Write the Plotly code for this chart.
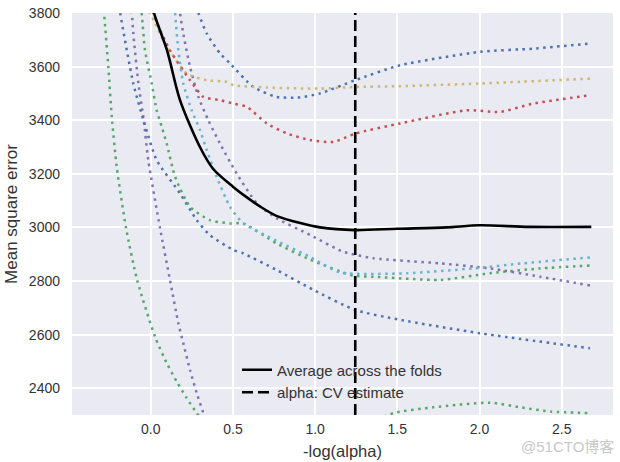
import plotly.graph_objects as go

# ---- data (x = -log(alpha), y = mean square error) ----
fold_a_x = [-0.33, -0.284, -0.258, -0.237, -0.207, -0.150, -0.083, 0.026, 0.097, 0.158, 0.219, 0.28, 0.35, 0.5, 0.7, 0.9, 1.1, 1.3, 1.476, 1.72, 2.064, 2.246, 2.43, 2.672]
fold_a_y = [4150, 3800, 3599, 3412, 3226, 2997, 2804, 2592, 2494, 2425, 2363, 2307, 2250, 2190, 2150, 2145, 2190, 2260, 2307, 2329, 2346, 2329, 2313, 2307]

fold_b_x = [-0.18, -0.116, -0.106, -0.075, -0.045, -0.015, 0.057, 0.117, 0.168, 0.198, 0.239, 0.28, 0.32, 0.36]
fold_b_y = [3960, 3800, 3723, 3537, 3412, 3251, 2996, 2804, 2642, 2568, 2468, 2381, 2307, 2230]

fold_c_x = [-0.23, -0.186, -0.106, -0.035, 0.036, 0.178, 0.28, 0.36, 0.502, 0.563, 0.766, 0.989, 1.243, 1.517, 2.003, 2.672]
fold_c_y = [3980, 3800, 3537, 3381, 3251, 3127, 3027, 2971, 2916, 2903, 2841, 2767, 2692, 2655, 2605, 2549]

fold_d_x = [-0.08, -0.055, -0.035, 0.006, 0.036, 0.067, 0.097, 0.148, 0.239, 0.36, 0.482, 0.563, 0.766, 0.969, 1.232, 1.354, 1.76, 2.064, 2.369, 2.672]
fold_d_y = [3930, 3800, 3661, 3537, 3437, 3375, 3313, 3189, 3077, 3027, 3015, 3015, 2940, 2880, 2820, 2816, 2804, 2829, 2847, 2858]

fold_e_x = [0.16, 0.178, 0.198, 0.239, 0.29, 0.35, 0.421, 0.523, 0.645, 0.766, 0.969, 1.172, 1.354, 1.76, 2.064, 2.369, 2.672]
fold_e_y = [3900, 3800, 3723, 3599, 3487, 3400, 3313, 3201, 3090, 3034, 2972, 2909, 2885, 2866, 2847, 2816, 2783]

fold_f_x = [0.24, 0.29, 0.341, 0.422, 0.482, 0.624, 0.766, 0.908, 1.03, 1.243, 1.517, 2.003, 2.327, 2.672]
fold_f_y = [3900, 3800, 3723, 3649, 3612, 3524, 3487, 3485, 3500, 3549, 3605, 3655, 3667, 3686]

fold_g_x = [-0.05, -0.02, 0.02, 0.077, 0.219, 0.341, 0.462, 0.502, 0.706, 1.03, 1.243, 1.517, 2.003, 2.672]
fold_g_y = [3880, 3820, 3770, 3698, 3574, 3549, 3543, 3531, 3522, 3518, 3524, 3527, 3537, 3555]

fold_h_x = [-0.03, 0.04, 0.117, 0.239, 0.32, 0.421, 0.502, 0.584, 0.706, 0.827, 0.969, 1.111, 1.243, 1.517, 1.922, 2.125, 2.327, 2.672]
fold_h_y = [3880, 3760, 3661, 3549, 3487, 3475, 3462, 3450, 3388, 3351, 3326, 3319, 3350, 3388, 3437, 3431, 3462, 3493]

fold_i_x = [0.13, 0.148, 0.168, 0.198, 0.249, 0.30, 0.341, 0.401, 0.482, 0.563, 0.766, 0.969, 1.152, 1.557, 1.96, 2.265, 2.672]
fold_i_y = [3930, 3800, 3661, 3537, 3437, 3363, 3288, 3189, 3077, 3015, 2950, 2890, 2832, 2829, 2847, 2866, 2888]

mean_x = [-0.03, 0.02, 0.099, 0.178, 0.30, 0.38, 0.50, 0.585, 0.665, 0.768, 0.91, 1.03, 1.24, 1.5, 1.8, 2.0, 2.3, 2.68]
mean_y = [3950, 3800, 3661, 3475, 3299, 3218, 3152, 3112, 3078, 3042, 3016, 3000, 2990, 2995, 3000, 3008, 3002, 3002]

alpha_cv = 1.244  # -log(alpha) chosen by CV

folds = [
    (fold_a_x, fold_a_y, "#55A868"),
    (fold_b_x, fold_b_y, "#8172B2"),
    (fold_c_x, fold_c_y, "#4C72B0"),
    (fold_d_x, fold_d_y, "#55A868"),
    (fold_e_x, fold_e_y, "#8172B2"),
    (fold_f_x, fold_f_y, "#4C72B0"),
    (fold_g_x, fold_g_y, "#CCB974"),
    (fold_h_x, fold_h_y, "#C44E52"),
    (fold_i_x, fold_i_y, "#64B5CD"),
]

x_ticks = [0.0, 0.5, 1.0, 1.5, 2.0, 2.5]
y_ticks = [2400, 2600, 2800, 3000, 3200, 3400, 3600, 3800]
y_min, y_max = 2300, 3800
x_min, x_max = -0.479, 2.812

fig = go.Figure()
for fx, fy, col in folds:
    fig.add_trace(go.Scatter(x=fx, y=fy, mode="lines", showlegend=False,
                             line=dict(color=col, width=2.5, dash="2.5px,4.5px",
                                       shape="spline", smoothing=0.6),
                             hoverinfo="skip"))

fig.add_trace(go.Scatter(x=mean_x, y=mean_y, mode="lines",
                         name="Average across the folds",
                         line=dict(color="black", width=2.6, shape="spline", smoothing=0.8)))
fig.add_trace(go.Scatter(x=[alpha_cv, alpha_cv], y=[y_min, y_max], mode="lines",
                         name="alpha: CV estimate",
                         line=dict(color="black", width=2.6, dash="11px,5px")))

font_family = "Liberation Sans, Arial, sans-serif"
fig.update_layout(
    width=620, height=462,
    margin=dict(l=72, r=7, t=13, b=47, autoexpand=False),
    paper_bgcolor="white",
    plot_bgcolor="#EAEAF2",
    font=dict(family=font_family, color="#333333", size=14),
    legend=dict(x=0.305, y=0.153, xanchor="left", yanchor="top",
                bgcolor="rgba(0,0,0,0)", font=dict(size=15, color="#333333"),
                tracegroupgap=2),
    annotations=[dict(text="@51CTO博客", x=1.0, y=0.0, xref="paper", yref="paper",
                      xanchor="right", yanchor="middle", yshift=-31, xshift=3, showarrow=False,
                      font=dict(size=15, color="#c8c8c8",
                                family="Liberation Sans, Noto Sans CJK SC, sans-serif"))],
)
fig.update_xaxes(range=[x_min, x_max], tickvals=x_ticks, tickformat=".1f",
                 showgrid=True, gridcolor="white", gridwidth=1.5, automargin=False,
                 zeroline=False, showline=False, ticklabelstandoff=4,
                 title=dict(text="-log(alpha)", font=dict(size=16.5), standoff=9))
fig.update_yaxes(range=[y_min, y_max], tickvals=y_ticks,
                 showgrid=True, gridcolor="white", gridwidth=1.5, automargin=False,
                 zeroline=False, showline=False, ticklabelstandoff=11,
                 title=dict(text="Mean square error", font=dict(size=17), standoff=6))

fig.write_html("out.html", config={"displayModeBar": False},
               post_script="document.body.style.margin='0';")
